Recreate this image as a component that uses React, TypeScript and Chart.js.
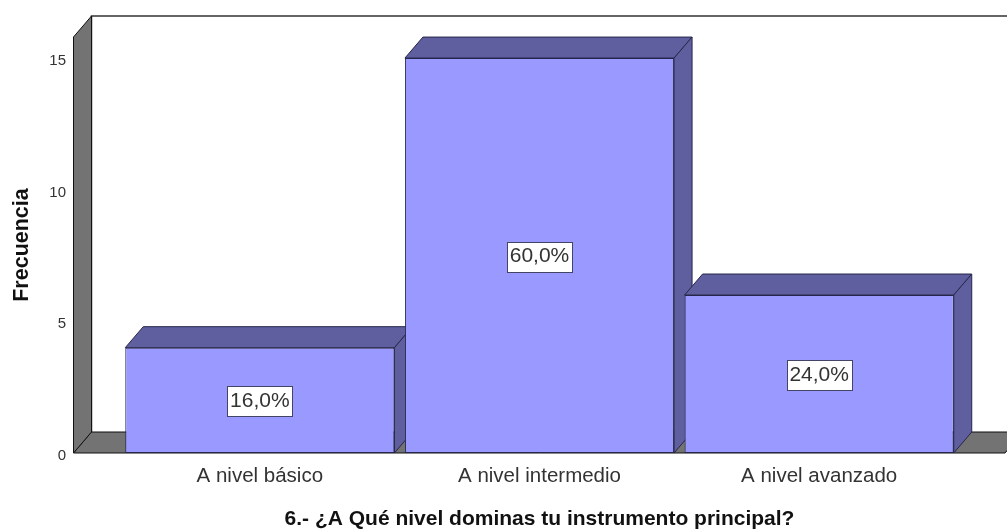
import React, { useEffect, useRef } from "react";
import { Chart, registerables } from "chart.js";

Chart.register(...registerables);

const categories = ["A nivel básico", "A nivel intermedio", "A nivel avanzado"];
const frequencies = [4, 15, 6];
const percentLabels = ["16,0%", "60,0%", "24,0%"];
const yTicks = [0, 5, 10, 15];
const xTitle = "6.- ¿A Qué nivel dominas tu instrumento principal?";
const yTitle = "Frecuencia";

const FONT = '"Liberation Sans", Arial, sans-serif';
const DX = 18;
const DY = 21;
const FRONT = "#9999ff";
const SIDE = "#5f5f9f";
const WALL = "#737373";
const LINE = "#26264a";

function poly(ctx: CanvasRenderingContext2D, pts: number[][], fill: string, stroke: string) {
  ctx.beginPath();
  pts.forEach((p, i) => (i ? ctx.lineTo(p[0], p[1]) : ctx.moveTo(p[0], p[1])));
  ctx.closePath();
  ctx.fillStyle = fill;
  ctx.fill();
  ctx.strokeStyle = stroke;
  ctx.lineWidth = 1;
  ctx.stroke();
}

const AXIS_LEFT = 73.5;
const shifted = new WeakSet<object>();

const box3d = {
  id: "box3d",
  beforeDraw(chart: any) {
    // y tick labels sit slightly below their tick position in the reference
    chart.scales.y.getLabelItems().forEach((item: any) => {
      if (!shifted.has(item)) {
        shifted.add(item);
        item.options.translation[1] += 3;
      }
    });
  },
  beforeDatasetsDraw(chart: any) {
    const { ctx, scales, chartArea } = chart;
    const y0 = scales.y.getPixelForValue(0);
    const top = chartArea.top;
    const right = chart.width + 40;
    ctx.save();
    // back wall
    ctx.beginPath();
    ctx.moveTo(AXIS_LEFT + DX, y0 - DY);
    ctx.lineTo(AXIS_LEFT + DX, top - DY);
    ctx.lineTo(right, top - DY);
    ctx.strokeStyle = "#333333";
    ctx.lineWidth = 1.5;
    ctx.stroke();
    // floor
    poly(ctx, [[AXIS_LEFT, y0], [AXIS_LEFT + DX, y0 - DY], [chart.width - 2 + DX, y0 - DY], [chart.width - 2, y0]], WALL, "#111111");
    // left wall
    poly(ctx, [[AXIS_LEFT, y0], [AXIS_LEFT, top], [AXIS_LEFT + DX, top - DY], [AXIS_LEFT + DX, y0 - DY]], WALL, "#111111");
    // bar depth faces
    chart.getDatasetMeta(0).data.forEach((bar: any) => {
      const l = bar.x - bar.width / 2;
      const r = bar.x + bar.width / 2;
      poly(ctx, [[l, bar.y], [l + DX, bar.y - DY], [r + DX, bar.y - DY], [r, bar.y]], SIDE, LINE);
      poly(ctx, [[r, bar.y], [r + DX, bar.y - DY], [r + DX, y0 - DY], [r, y0]], SIDE, LINE);
    });
    ctx.restore();
  },
  afterDatasetsDraw(chart: any) {
    const { ctx, scales } = chart;
    const y0 = scales.y.getPixelForValue(0);
    ctx.save();
    ctx.font = `21px ${FONT}`;
    ctx.textAlign = "center";
    ctx.textBaseline = "middle";
    chart.getDatasetMeta(0).data.forEach((bar: any, i: number) => {
      const cy = (bar.y + y0) / 2 + 1;
      const w = 65;
      const h = 30;
      const bx = Math.round(bar.x - w / 2) + 0.5;
      const by = Math.round(cy - h / 2) + 0.5;
      ctx.fillStyle = "#ffffff";
      ctx.fillRect(bx, by, w, h);
      ctx.strokeStyle = "#444466";
      ctx.lineWidth = 1;
      ctx.strokeRect(bx, by, w, h);
      ctx.fillStyle = "#333333";
      ctx.fillText(percentLabels[i], bar.x, cy);
    });
    ctx.restore();
  },
};

export default function App() {
  const ref = useRef<HTMLCanvasElement>(null);
  useEffect(() => {
    document.body.style.margin = "0";
    const chart = new Chart(ref.current!, {
      type: "bar",
      data: {
        labels: categories,
        datasets: [
          {
            data: frequencies,
            backgroundColor: FRONT,
            borderColor: LINE,
            borderWidth: 1,
            borderSkipped: false,
            barPercentage: 0.9624,
            categoryPercentage: 1,
          },
        ],
      },
      options: {
        responsive: false,
        animation: false,
        layout: { padding: { top: 37, right: 48, left: 0, bottom: 0 } },
        plugins: { legend: { display: false }, tooltip: { enabled: false } },
        scales: {
          x: {
            grid: { display: false, drawTicks: false },
            border: { display: false },
            ticks: { font: { family: FONT, size: 20.5 }, color: "#333333", padding: 11, maxRotation: 0 },
            title: { display: true, text: xTitle, font: { family: FONT, size: 21, weight: "bold" }, color: "#111111", padding: { top: 0, bottom: -3 } },
            afterFit(s: any) { s.height = 76; },
          },
          y: {
            min: 0,
            max: 15.8,
            afterBuildTicks(s: any) { s.ticks = yTicks.map((value) => ({ value })); },
            grid: { display: false, drawTicks: false },
            border: { display: false },
            ticks: { font: { family: FONT, size: 15 }, color: "#333333", padding: 54 },
            title: { display: true, text: yTitle, font: { family: FONT, size: 21.5, weight: "bold" }, color: "#111111", padding: { top: 9, bottom: 0 } },
            afterFit(s: any) {
              s.width = 120;
              s.paddingTop = 0;
              s.paddingBottom = 0;
            },
          },
        },
      },
      plugins: [box3d],
    } as any);
    return () => chart.destroy();
  }, []);
  return <canvas ref={ref} width={1007} height={529} style={{ display: "block" }} />;
}
